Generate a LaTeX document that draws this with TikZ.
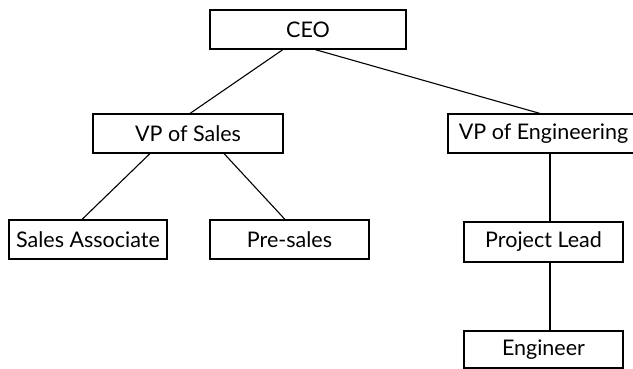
\documentclass[tikz,border=0pt]{standalone}
\usepackage{fontspec}
\setmainfont{Lato}
\begin{document}
\begin{tikzpicture}[x=1pt,y=-1pt,
  box/.style={draw=black,line width=1.1pt,minimum height=39pt,inner sep=0pt,font=\fontsize{21.5}{24}\selectfont,text=black},
  link/.style={draw=black,line width=1.1pt}]
\clip (0,0) rectangle (633,369);
\fill[white] (0,0) rectangle (633,369);
\node[box,minimum width=196pt] (ceo) at (308,29.5) {CEO};
\node[box,minimum width=190pt] (vps) at (188,133.5) {VP of Sales};
\node[box,minimum width=191pt] (vpe) at (543.5,133.5) {VP of Engineering};
\node[box,minimum width=158pt] (sa) at (88,239.5) {Sales Associate};
\node[box,minimum width=159pt] (ps) at (289.5,239.5) {Pre-sales};
\node[box,minimum width=159pt,minimum height=40pt] (pl) at (543.5,242) {Project Lead};
\node[box,minimum width=159pt,minimum height=37pt] (eng) at (543.5,349.5) {Engineer};
\draw[link] ([xshift=-25pt]ceo.south) -- ([xshift=2pt]vps.north);
\draw[link] ([xshift=7pt]ceo.south) -- ([xshift=-3.5pt]vpe.north);
\draw[link] ([xshift=-38pt]vps.south) -- ([xshift=-6pt]sa.north);
\draw[link] ([xshift=36pt]vps.south) -- ([xshift=-4.5pt]ps.north);
\draw[link] ([xshift=6.5pt]vpe.south) -- ([xshift=6.5pt]pl.north);
\draw[link] ([xshift=6.5pt]pl.south) -- ([xshift=6.5pt]eng.north);
\end{tikzpicture}
\end{document}
